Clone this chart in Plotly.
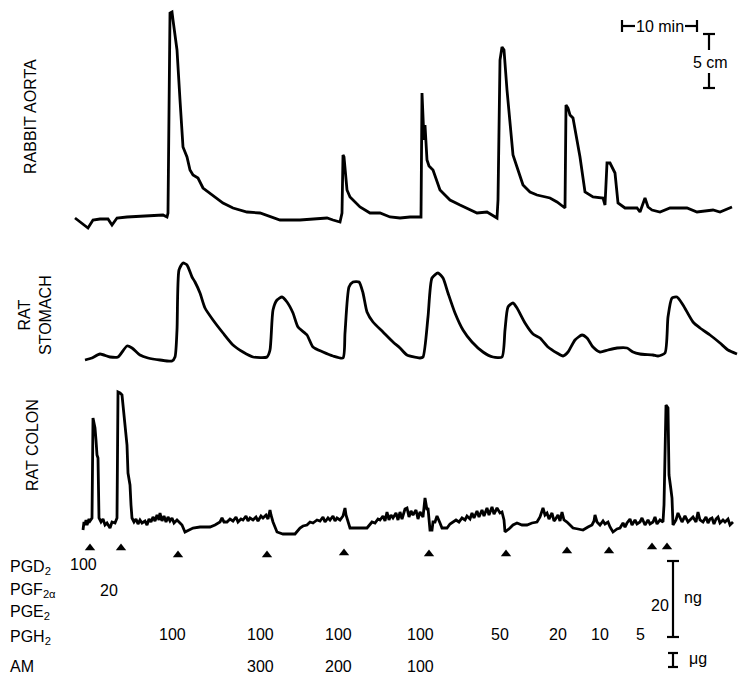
import plotly.graph_objects as go

# ---- digitised recordings: (time, deflection) in chart units (75 units = 10 min, 54 units = 5 cm)
aorta_pts = [(75,0),(80,-4),(88,-10),(93,-2),(100,-1),(108,-1),(112,-7),(117,0),(127,1),(145,2),(163,3),
    (167,1),(168,5),(170,205),(172,206),(173,198),(177,168),(180,118),(183,71),(187,61),(190,48),(193,43),
    (198,40),(203,30),(210,25),(217,20),(223,15),(233,10),(247,6),(260,5),(280,-2),(300,-2),(327,0),(333,-2),
    (340,-4),(342,5),(343,63),(344,61),(347,28),(350,21),(360,11),(370,5),(380,5),(390,1),(400,0),(410,1),
    (420,1),(421,1),(422,125),(424,78),(425,93),(427,58),(429,52),(433,48),(440,28),(450,18),(460,13),(477,5),
    (487,6),(497,0),(498,18),(500,158),(502,171),(504,168),(507,128),(510,98),(513,63),(518,48),(523,33),
    (530,26),(537,23),(550,20),(557,16),(565,10),(566,113),(568,110),(570,103),(573,100),(577,78),(580,61),
    (585,26),(593,21),(603,20),(605,13),(607,55),(610,55),(615,45),(618,15),(625,10),(637,10),(640,6),
    (645,20),(648,11),(652,8),(660,6),(670,10),(687,10),(697,6),(713,8),(720,6),(732,11)]

stomach_pts = [(85,0),(92,2),(100,6),(110,3),(118,3),(127,14),(132,12),(140,5),(148,2),(160,0),(172,-1),
    (175,3),(177,30),(179,90),(183,97),(187,95),(192,83),(195,78),(200,67),(205,52),(213,40),(223,27),
    (233,15),(243,8),(253,3),(267,3),(270,10),(273,50),(277,60),(282,63),(287,58),(293,47),(298,33),(307,25),
    (313,13),(323,8),(333,4),(343,2),(345,27),(349,73),(353,78),(359,78),(363,67),(367,48),(373,38),(383,28),
    (393,18),(400,12),(407,5),(420,2),(423,3),(428,43),(432,82),(438,87),(443,82),(448,67),(455,47),(463,30),
    (472,18),(483,8),(493,3),(502,3),(505,30),(508,53),(513,57),(517,52),(525,37),(533,26),(540,22),(548,13),
    (557,7),(563,4),(568,8),(575,20),(582,25),(587,22),(593,13),(600,8),(608,10),(617,12),(627,12),(633,8),
    (640,6),(653,5),(658,4),(665,7),(668,43),(672,62),(677,63),(683,55),(693,38),(700,32),(710,25),(720,17),
    (728,10),(737,6)]

colon_pts = [(83,-5),(84,3),(85,0),(86,5),(87,0),(89,6),(90,4),(92,7),(93,107),(95,97),(96,85),(97,70),
    (98,67),(99,7),(101,3),(103,6),(105,0),(107,2),(110,-3),(112,3),(115,2),(117,7),(118,133),(120,132),
    (122,130),(123,120),(125,100),(127,80),(128,52),(130,40),(131,20),(132,7),(134,3),(136,6),(138,1),(140,5),
    (142,2),(145,4),(147,0),(149,6),(151,3),(153,8),(155,4),(157,10),(159,5),(160,12),(162,4),(164,9),(166,3),
    (168,8),(170,4),(172,7),(174,2),(177,5),(180,2),(182,0),(185,-7),(190,-4),(193,-3),(200,-2),(210,-2),
    (215,0),(220,3),(222,7),(224,3),(227,3),(230,6),(233,4),(236,8),(238,3),(241,6),(243,5),(246,9),(248,4),
    (250,7),(253,5),(256,8),(258,4),(261,9),(263,7),(266,10),(268,6),(270,15),(271,10),(273,3),(277,-7),
    (283,-9),(295,-9),(300,-3),(303,-1),(307,0),(310,3),(313,2),(317,5),(320,4),(323,8),(325,3),(328,7),
    (330,5),(333,9),(335,4),(337,7),(340,5),(343,9),(345,17),(346,10),(347,7),(350,-3),(360,-3),(367,-3),
    (372,3),(375,2),(378,6),(380,5),(383,9),(385,4),(387,13),(389,5),(391,10),(393,7),(396,12),(398,5),
    (400,13),(402,6),(405,16),(407,17),(409,8),(411,14),(413,10),(416,15),(418,6),(420,13),(423,8),(425,27),
    (427,15),(428,17),(430,-5),(432,-5),(433,3),(435,3),(437,9),(438,7),(440,2),(442,-3),(447,-3),(450,1),
    (453,3),(456,5),(459,3),(462,7),(465,5),(467,9),(470,6),(472,12),(474,7),(477,14),(479,8),(482,15),
    (484,9),(487,17),(489,10),(492,18),(494,11),(497,17),(500,12),(502,13),(504,5),(505,-7),(510,-3),
    (513,0),(517,2),(522,0),(527,0),(532,2),(537,3),(540,8),(543,17),(545,10),(547,12),(549,6),(552,12),
    (554,4),(555,5),(558,10),(560,4),(562,13),(564,5),(567,3),(570,0),(573,-3),(578,-4),(583,-5),(588,-2),
    (592,0),(594,4),(595,10),(597,3),(600,0),(603,4),(605,1),(608,3),(610,-2),(613,-7),(617,-4),(620,-3),
    (623,2),(625,-2),(627,2),(630,6),(632,0),(635,5),(637,1),(640,3),(642,7),(645,0),(648,5),(650,1),
    (653,3),(655,8),(657,1),(660,5),(663,3),(664,20),(666,120),(668,117),(669,50),(671,35),(672,27),
    (673,0),(676,5),(678,12),(680,8),(682,3),(685,9),(688,3),(690,5),(693,8),(696,3),(698,13),(700,5),
    (703,3),(706,8),(708,2),(710,6),(712,7),(714,1),(716,6),(718,8),(720,2),(723,5),(725,3),(728,6),
    (730,0),(733,3)]

# injection marks (time) and their level on the colon recording scale
inject_t = [90, 121, 178, 267, 344, 429, 506, 567, 609, 652, 667]
inject_v = [-23, -23, -30, -30, -28, -29, -29, -26, -26, -22, -22]

# dose table
row_names = ["PGD<sub>2</sub>", "PGF<sub>2\u03b1</sub>", "PGE<sub>2</sub>", "PGH<sub>2</sub>", "AM"]
row_y = [567, 590, 612, 637, 666]
dose_x = [83, 109, 172, 260, 338, 420, 500, 558, 600, 640, 660, 260, 338, 420]
dose_row = [0, 1, 3, 3, 3, 3, 3, 3, 3, 3, 2, 4, 4, 4]
dose_txt = ["100", "20", "100", "100", "100", "100", "50", "20", "10", "5", "20", "300", "200", "100"]

tissues = ["RABBIT AORTA", "RAT<br>STOMACH", "RAT COLON"]

def unzip(p):
    return [a for a, _ in p], [b for _, b in p]

fig = go.Figure()
for pts, ax, shape in [(aorta_pts, "y", "linear"), (stomach_pts, "y2", "spline"), (colon_pts, "y3", "linear")]:
    xs, ys = unzip(pts)
    line = dict(color="black", width=2.8, shape=shape)
    if shape == "spline":
        line["smoothing"] = 0.6
    fig.add_trace(go.Scatter(x=xs, y=ys, yaxis=ax, mode="lines", line=line,
                             hoverinfo="skip", showlegend=False))

fig.add_trace(go.Scatter(x=inject_t, y=inject_v, yaxis="y3", mode="markers",
                         marker=dict(symbol="triangle-up", size=9, color="black"),
                         hoverinfo="skip", showlegend=False))

font = dict(family="Liberation Sans, Arial, sans-serif", size=16, color="black")
ann = []
for name, y in zip(row_names, row_y):
    ann.append(dict(x=8, y=y, xref="x", yref="y4", text=name, showarrow=False,
                    xanchor="left", yanchor="middle", font=font))
for x, r, t in zip(dose_x, dose_row, dose_txt):
    yy = row_y[r] - 3 if r in (0, 3) else row_y[r]
    if r == 2:
        yy = 605
    ann.append(dict(x=x, y=yy, xref="x", yref="y4", text=t, showarrow=False,
                    xanchor="center", yanchor="middle", font=font))
# tissue labels
for t, (x, y) in zip(tissues, [(30, 117), (35, 315), (32, 445)]):
    ann.append(dict(x=x, y=y, xref="x", yref="y4", text=t, showarrow=False, textangle=-90,
                    xanchor="center", yanchor="middle", font=font))
# scale bar labels
ann += [dict(x=660, y=26, xref="x", yref="y4", text="10 min", showarrow=False, font=font),
        dict(x=710, y=62, xref="x", yref="y4", text="5 cm", showarrow=False, font=font),
        dict(x=693, y=597, xref="x", yref="y4", text="ng", showarrow=False, font=font),
        dict(x=698, y=658, xref="x", yref="y4", text="\u03bcg", showarrow=False, font=font)]

def seg(x0, y0, x1, y1, w=2.2):
    return dict(type="line", xref="x", yref="y4", x0=x0, y0=y0, x1=x1, y1=y1,
                line=dict(color="black", width=w))

shapes = [seg(622, 26, 635, 26), seg(622, 20, 622, 32), seg(685, 26, 697, 26), seg(697, 20, 697, 32),
          seg(709, 34, 709, 50), seg(709, 73, 709, 88), seg(703, 34, 715, 34), seg(703, 88, 715, 88),
          seg(673, 561, 673, 637), seg(667, 561, 679, 561), seg(667, 637, 679, 637),
          seg(673, 653, 673, 667), seg(668, 653, 678, 653), seg(668, 667, 678, 667)]

# page body has an 8px margin: figure is 742x678 and axes start at 8
hidden = dict(visible=False, showgrid=False, zeroline=False, fixedrange=True)
fig.update_layout(
    width=742, height=678, margin=dict(l=0, r=0, t=0, b=0),
    paper_bgcolor="white", plot_bgcolor="white", hovermode=False,
    xaxis=dict(range=[8, 750], domain=[0, 1], **hidden),
    yaxis=dict(range=[-468, 210], domain=[0, 1], **hidden),
    yaxis2=dict(range=[-326, 352], overlaying="y", **hidden),
    yaxis3=dict(range=[-161, 517], overlaying="y", **hidden),
    yaxis4=dict(range=[686, 8], overlaying="y", **hidden),
    annotations=ann, shapes=shapes,
)
fig.write_html("out.html", config=dict(displayModeBar=False))
